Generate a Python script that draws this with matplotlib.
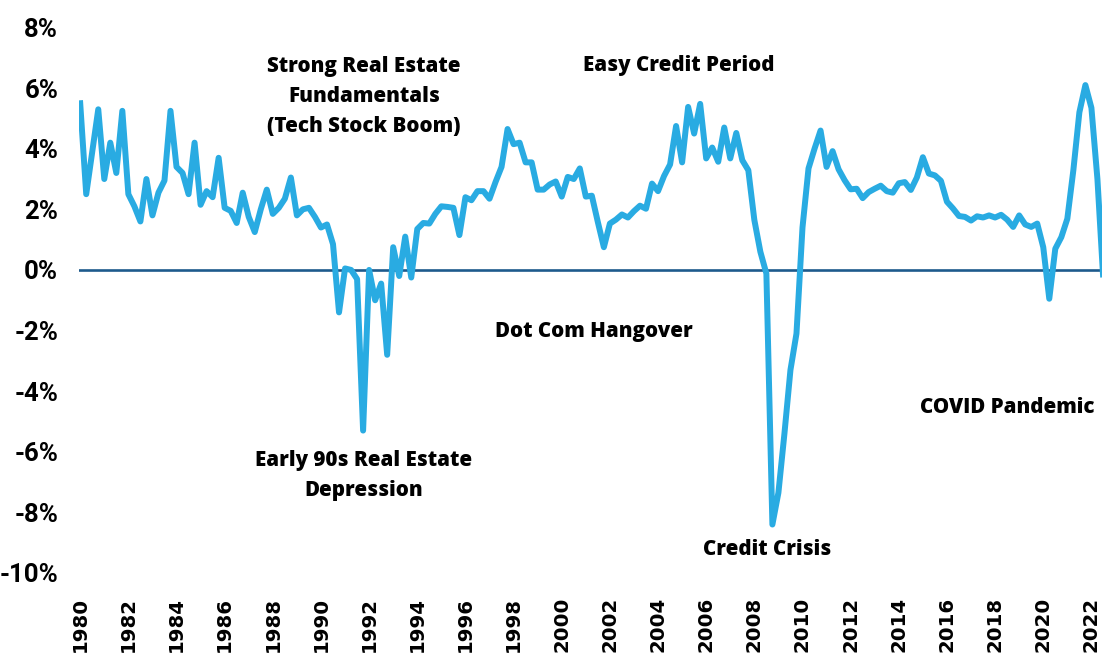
import matplotlib
matplotlib.use("Agg")
import matplotlib.pyplot as plt
from matplotlib import font_manager
import numpy as np
import pandas as pd

# quarterly values (%), 1980Q1 .. 2022Q3
vals_1980s = [5.5, 2.5, 3.9, 5.3, 3.0, 4.2, 3.2, 5.25, 2.5, 2.1, 1.6, 3.0,
              1.8, 2.55, 2.95, 5.25, 3.4, 3.2, 2.5, 4.2, 2.15, 2.6, 2.4, 3.7,
              2.05, 1.95, 1.55, 2.55, 1.75, 1.25, 2.0, 2.65, 1.85, 2.05, 2.35, 3.05,
              1.8, 2.0, 2.05, 1.75]
vals_1990s = [1.4, 1.5, 0.85, -1.4, 0.05, 0.0, -0.3, -5.3, 0.0, -1.0, -0.45, -2.8,
              0.75, -0.2, 1.1, -0.25, 1.35, 1.55, 1.53, 1.85, 2.1, 2.08, 2.05, 1.15,
              2.4, 2.3, 2.6, 2.6, 2.35, 2.9, 3.4, 4.65, 4.15, 4.2, 3.55, 3.55,
              2.65, 2.65, 2.82, 2.92]
vals_2000s = [2.42, 3.07, 3.0, 3.35, 2.42, 2.45, 1.58, 0.75, 1.53, 1.66, 1.83, 1.73,
              1.94, 2.12, 2.02, 2.85, 2.6, 3.1, 3.48, 4.75, 3.55, 5.38, 4.5, 5.48,
              3.68, 4.04, 3.57, 4.7, 3.68, 4.52, 3.62, 3.29, 1.65, 0.6, -0.12, -8.4,
              -7.35, -5.4, -3.3, -2.1]
vals_2010s = [1.4, 3.35, 4.0, 4.6, 3.4, 3.92, 3.32, 2.96, 2.66, 2.68, 2.37, 2.57,
              2.68, 2.78, 2.6, 2.55, 2.86, 2.9, 2.64, 3.05, 3.72, 3.18, 3.12, 2.94,
              2.25, 2.03, 1.78, 1.75, 1.63, 1.77, 1.73, 1.8, 1.73, 1.82, 1.66, 1.42,
              1.8, 1.5, 1.42, 1.53]
vals_2020s = [0.75, -0.95, 0.7, 1.08, 1.69, 3.29, 5.2, 6.1, 5.35, 3.0, -0.4]

values = vals_1980s + vals_1990s + vals_2000s + vals_2010s + vals_2020s
quarters = pd.period_range("1980Q1", periods=len(values), freq="Q")
x = np.array([q.year + (q.quarter - 1) / 4 for q in quarters])

year_ticks = list(range(1980, 2023, 2))
pct_ticks = list(range(-10, 9, 2))

# annotations: (text, x year, y %)
notes = [
    ("Strong Real Estate\nFundamentals\n(Tech Stock Boom)", 1991.78, 5.72),
    ("Easy Credit Period", 2004.87, 6.76),
    ("Dot Com Hangover", 2001.33, -2.03),
    ("Early 90s Real Estate\nDepression", 1991.78, -6.79),
    ("Credit Crisis", 2008.52, -9.21),
    ("COVID Pandemic", 2018.49, -4.55),
]

LINE = "#29abe2"
ZERO = "#1d5a8c"

names = {f.name for f in font_manager.fontManager.ttflist}
narrow = next((n for n in ["Liberation Sans Narrow", "DejaVu Sans Condensed",
                           "Roboto"] if n in names), "DejaVu Sans")
note_font = "Open Sans" if "Open Sans" in names else "DejaVu Sans"

fig = plt.figure(figsize=(11.02, 6.62), dpi=100)
ax = fig.add_axes([79 / 1102, 89 / 662, 1 - 79 / 1102, (573 - 27.5) / 662])

ax.axhline(0, color=ZERO, lw=1.9, zorder=1)
ax.plot(x, values, color=LINE, lw=4.3, zorder=2)

ax.set_xlim(1979.95, 2022.44)
ax.set_ylim(-10, 8)

ax.set_xticks(year_ticks)
ax.set_xticklabels([str(y) for y in year_ticks], rotation=90,
                   fontweight="bold", fontsize=14.2, family="DejaVu Sans")
ax.set_yticks(pct_ticks)
ax.set_yticklabels([f"{p}%" for p in pct_ticks], fontweight="bold",
                   fontsize=18.5, family=narrow)
ax.tick_params(axis="x", length=0, pad=17)
ax.tick_params(axis="y", length=0, pad=15)
for s in ax.spines.values():
    s.set_visible(False)

for text, xx, yy in notes:
    ax.text(xx, yy, text, ha="center", va="center", fontsize=14.8,
            fontweight="heavy", family=note_font, linespacing=1.56)

fig.savefig("out.png", dpi=100)
